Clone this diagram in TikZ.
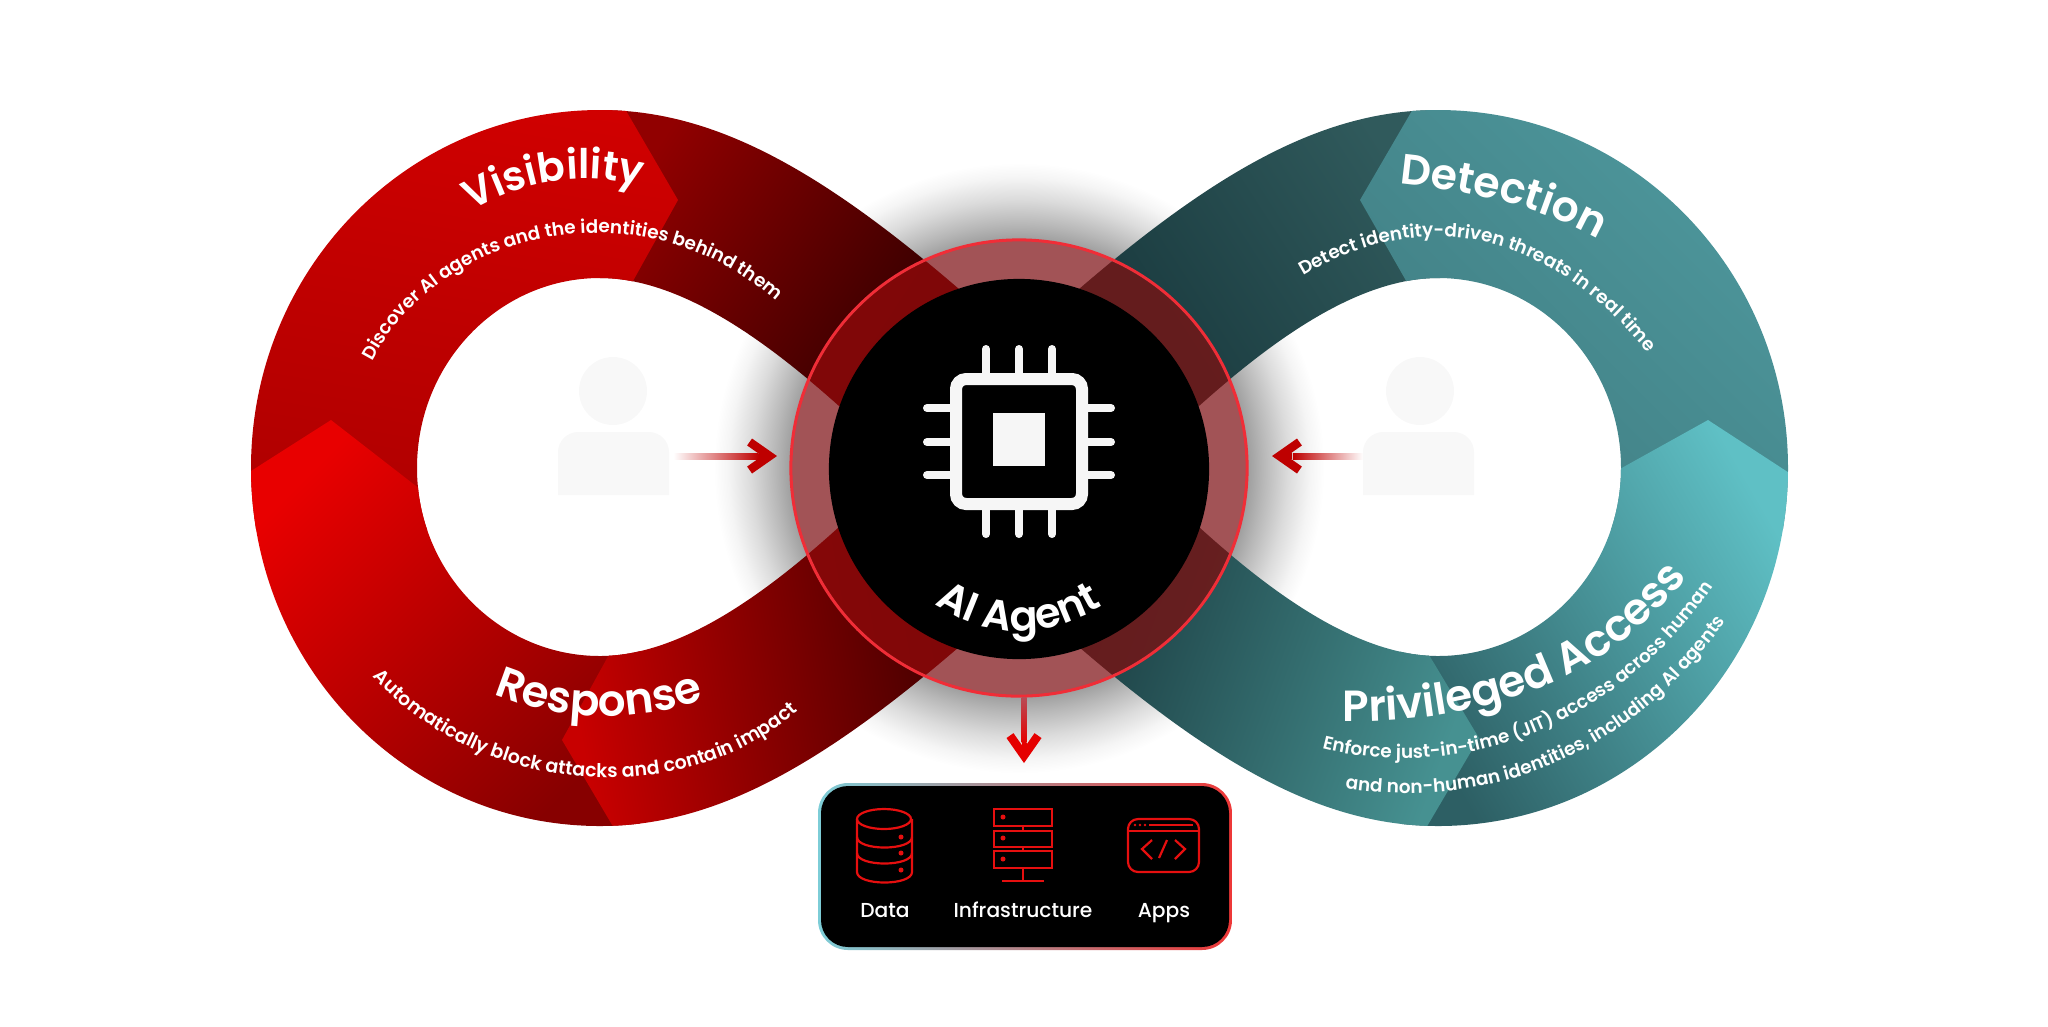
\documentclass[tikz,border=0pt]{standalone}
\usepackage{fontspec}
\setmainfont{Poppins}[BoldFont={Poppins SemiBold}]
\newfontfamily\labelfam{Poppins Medium}
\usepackage{tikz}
\usetikzlibrary{arrows.meta,decorations.text}

\definecolor{ringline}{RGB}{240,45,55}
\definecolor{ringfill}{RGB}{165,42,46}
\definecolor{arrowred}{RGB}{190,0,0}
\definecolor{iconred}{RGB}{230,15,15}
\definecolor{chipwhite}{RGB}{246,246,246}
\definecolor{personfill}{RGB}{248,248,248}
\definecolor{boxblue}{RGB}{125,205,215}
\definecolor{boxred}{RGB}{238,55,55}
\definecolor{bandleft}{RGB}{128,0,0}
\definecolor{bandright}{RGB}{95,20,20}

\pgfdeclareradialshading{glowshade}{\pgfpointorigin}{gray(0bp)=(0.62); gray(18.7bp)=(0.62); gray(20bp)=(0.72); gray(22bp)=(0.86); gray(23.8bp)=(0.96); gray(25bp)=(1); gray(50bp)=(1)}

\newcommand{\headfont}{\fontsize{12.4}{14}\selectfont\bfseries}
\newcommand{\subfont}{\fontsize{5.25}{6}\selectfont\bfseries}

\tikzset{
  leftlobe/.style={insert path={
    (960,290) .. controls (815,165) and (710,110) .. (600,110)
    .. controls (407,110) and (251,270) .. (251,468)
    .. controls (251,666) and (407,826) .. (600,826)
    .. controls (710,826) and (815,771) .. (960,646) -- cycle
    (838,405) .. controls (765,340) and (680,278) .. (600,278)
    .. controls (499,278) and (417,363) .. (417,468)
    .. controls (417,572) and (499,656) .. (600,656)
    .. controls (680,656) and (765,594) .. (838,528)
    -- (870,502) -- (870,431) -- cycle}},
  rightlobe/.style={insert path={
    (1078,290) .. controls (1223,165) and (1328,110) .. (1438,110)
    .. controls (1631,110) and (1788,270) .. (1788,468)
    .. controls (1788,666) and (1631,826) .. (1438,826)
    .. controls (1328,826) and (1223,771) .. (1078,646) -- cycle
    (1200,405) .. controls (1273,340) and (1358,278) .. (1438,278)
    .. controls (1539,278) and (1621,363) .. (1621,468)
    .. controls (1621,572) and (1539,656) .. (1438,656)
    .. controls (1358,656) and (1273,594) .. (1200,528)
    -- (1168,502) -- (1168,431) -- cycle}},
  headtext/.style={decoration={text along path, text align=center, text color=white,
    text={|\headfont|#1}}, decorate},
  subtext/.style={decoration={text along path, text align=center, text color=white,
    text={|\subfont|#1}}, decorate},
  chipline/.style={draw=chipwhite, line width=1.2mm, rounded corners=1mm},
  chippin/.style={draw=chipwhite, line width=0.8mm, line cap=round},
  connector/.style={draw=arrowred, line width=0.6mm, -{Straight Barb[length=2mm,width=2.8mm,line width=0.85mm]}},
  iconline/.style={draw=iconred, line width=0.22mm},
  icondot/.style={fill=iconred},
  boxlabel/.style={text=white, font=\labelfam\fontsize{5.75}{7}\selectfont, inner sep=0pt, anchor=base}
}

\begin{document}
\begin{tikzpicture}[x=0.01cm, y=-0.01cm]
  \useasboundingbox (0,0) rectangle (2048,1026);

  \node (glow) [circle, shading=glowshade, minimum size=6.1cm, inner sep=0pt] at (1019,468) {};

  % left loop
  \begin{scope}[even odd rule]
    \clip[leftlobe];
    \shade[top color={rgb,255:red,145;green,0;blue,0}, bottom color={rgb,255:red,30;green,0;blue,0}, shading angle=57]
      (600,90) -- (1019,90) -- (1019,468) -- (600,468) -- cycle;
    \shade[top color={rgb,255:red,208;green,0;blue,0}, bottom color={rgb,255:red,175;green,0;blue,0}, shading angle=-10]
      (230,90) -- (614,90) -- (678,200) -- (628,290) -- (628,530) -- (230,530) -- cycle;
    \shade[top color={rgb,255:red,232;green,0;blue,0}, bottom color={rgb,255:red,135;green,0;blue,0}, shading angle=45]
      (240,478) -- (331,420) -- (425,493) -- (640,650) -- (640,840) -- (240,840) -- cycle;
    \shade[top color={rgb,255:red,200;green,0;blue,0}, bottom color={rgb,255:red,45;green,0;blue,0}, shading angle=100]
      (617,640) -- (562,740) -- (621,840) -- (1019,840) -- (1019,468) -- (617,468) -- cycle;
  \end{scope}

  % right loop
  \begin{scope}[even odd rule]
    \clip[rightlobe];
    \shade[top color={rgb,255:red,48;green,90;blue,92}, bottom color={rgb,255:red,20;green,50;blue,55}, shading angle=-57]
      (1440,90) -- (1019,90) -- (1019,468) -- (1440,468) -- cycle;
    \shade[top color={rgb,255:red,78;green,152;blue,157}, bottom color={rgb,255:red,64;green,125;blue,130}, shading angle=-45]
      (1800,90) -- (1424,90) -- (1360,200) -- (1417,300) -- (1417,530) -- (1800,530) -- cycle;
    \shade[top color={rgb,255:red,95;green,192;blue,197}, bottom color={rgb,255:red,45;green,95;blue,100}, shading angle=-60]
      (1600,480) -- (1708,420) -- (1800,480) -- (1800,840) -- (1400,840) -- (1400,640) -- cycle;
    \shade[top color={rgb,255:red,70;green,145;blue,145}, bottom color={rgb,255:red,22;green,50;blue,55}, shading angle=-110]
      (1420,640) -- (1479,738) -- (1419,840) -- (1019,840) -- (1019,468) -- (1420,468) -- cycle;
  \end{scope}

  % curved texts
  \path[headtext={|\fontsize{11.6}{14}\selectfont\bfseries|Visibility}] (450,224) .. controls (530,170) and (600,170) .. (665,194);
  \path[subtext={Discover AI agents and the identities behind them}] (362,384) .. controls (420,230) and (650,170) .. (794,318);
  \path[headtext={Response}] (480,688) .. controls (550,722) and (640,727) .. (718,694);
  \path[subtext={|\fontsize{5.4}{6}\selectfont\bfseries|Automatically block attacks and contain impact}] (362,664) .. controls (470,798) and (690,818) .. (810,700);
  \path[headtext={|\fontsize{12.1}{14}\selectfont\bfseries|Detection}] (1378,182) .. controls (1470,190) and (1545,205) .. (1617,250);
  \path[subtext={Detect identity-driven threats in real time}] (1287,286) .. controls (1400,210) and (1540,210) .. (1660,368);
  \path[headtext={Privileged Access}] (1315,720) .. controls (1480,731) and (1625,676) .. (1703,554);
  \path[subtext={Enforce just-in-time (JIT) access across human}] (1300,742) .. controls (1450,792) and (1630,727) .. (1725,567);
  \path[subtext={and non-human identities, including AI agents}] (1320,784) .. controls (1470,815) and (1630,770) .. (1740,600);

  % persons
  \fill[personfill] (613,391) ellipse [x radius=34, y radius=34];
  \fill[personfill] (558,495) [rounded corners=2mm] -- (558,432) -- (669,432) [sharp corners] -- (669,495) -- cycle;
  \fill[personfill] (1420,391) ellipse [x radius=34, y radius=34];
  \fill[personfill] (1363,495) [rounded corners=2mm] -- (1363,432) -- (1474,432) [sharp corners] -- (1474,495) -- cycle;

  % center
  \node (agentRing) [circle, minimum size=4.56cm, inner sep=0pt, fill=ringfill, fill opacity=0.64, draw=ringline, draw opacity=1, line width=0.3mm] at (1019,468) {};
  \begin{scope}[even odd rule]
    \clip[leftlobe];
    \fill[bandleft, opacity=0.7] (agentRing.center) circle (226.5);
  \end{scope}
  \begin{scope}[even odd rule]
    \clip[rightlobe];
    \fill[bandright, opacity=0.7] (agentRing.center) circle (226.5);
  \end{scope}
  \node (agentCore) [circle, minimum size=3.8cm, inner sep=0pt, fill=black] at (1019,469) {};

  \draw[chipline] (956,379) rectangle (1082,504);
  \fill[chipwhite] (993,413) rectangle (1045,466);
  \foreach \x in {986,1019,1052} {
    \draw[chippin] (\x,349) -- (\x,373);
    \draw[chippin] (\x,510) -- (\x,534);
  }
  \foreach \y in {408,442,475} {
    \draw[chippin] (927,\y) -- (950,\y);
    \draw[chippin] (1088,\y) -- (1111,\y);
  }
  \path[decoration={text along path, text align=center, text color=white,
    text={|\fontsize{11.8}{12}\selectfont\bfseries|AI Agent}}, decorate]
    (925,597) .. controls (985,642) and (1050,642) .. (1113,599);

  % arrows
  \coordinate (tipL) at (777,456);
  \coordinate (tipR) at (1272,456);
  \coordinate (tipD) at (1024,763);
  \node (tailL) [inner sep=0pt, minimum width=0.85cm, minimum height=0.6mm, left color=white, right color=arrowred] at (716,456) {};
  \node (tailR) [inner sep=0pt, minimum width=0.7cm, minimum height=0.6mm, right color=white, left color=arrowred] at (1328,456) {};
  \node (tailD) [inner sep=0pt, minimum width=0.5mm, minimum height=0.45cm, top color={rgb,255:red,185;green,75;blue,85}, bottom color=arrowred!40!red] at (1024,720) {};
  \draw[connector] (tailL.east) -- (tipL);
  \draw[connector] (tailR.west) -- (tipR);
  \draw[connector, draw=arrowred!40!red, line width=0.5mm] (tailD.south) -- (tipD);

  % stack box
  \path[left color=boxblue, right color=boxred, rounded corners=3mm] (818,783) rectangle (1232,950);
  \fill[black, rounded corners=2.7mm] (821,786) rectangle (1229,947);

  \draw[iconline] (884,819) ellipse [x radius=27, y radius=10];
  \draw[iconline] (857,819) -- (857,872) .. controls (857,886) and (912,886) .. (912,872) -- (912,819);
  \foreach \y in {837,853} {
    \draw[iconline] (857,\y) .. controls (857,\y+14) and (912,\y+14) .. (912,\y);
  }
  \foreach \y in {837,853,870} {
    \fill[icondot] (901,\y) circle (2.5);
  }

  \draw[iconline] (994,809) rectangle (1052,826);
  \draw[iconline] (994,831) rectangle (1052,847);
  \draw[iconline] (994,851) rectangle (1052,868);
  \draw[iconline] (1023,826) -- (1023,831);
  \draw[iconline] (1023,847) -- (1023,851);
  \draw[iconline] (1023,868) -- (1023,881);
  \draw[iconline] (1002,881) -- (1044,881);
  \foreach \y in {817,838,859} {
    \fill[icondot] (1003,\y) circle (2.5);
  }

  \draw[iconline, rounded corners=1mm] (1128,819) rectangle (1199,872);
  \draw[iconline] (1128,831) -- (1199,831);
  \draw[iconline] (1149,825) -- (1193,825);
  \foreach \x in {1135,1140,1145} {
    \fill[icondot] (\x,825) circle (1.3);
  }
  \draw[iconline] (1152,840) -- (1142,849) -- (1152,859);
  \draw[iconline] (1167,840) -- (1159,858);
  \draw[iconline] (1175,840) -- (1185,849) -- (1175,859);

  \node (dataLabel) [boxlabel] at (885,917) {Data};
  \node (infraLabel) [boxlabel] at (1023,917) {Infrastructure};
  \node (appsLabel) [boxlabel] at (1164,917) {Apps};
\end{tikzpicture}
\end{document}
